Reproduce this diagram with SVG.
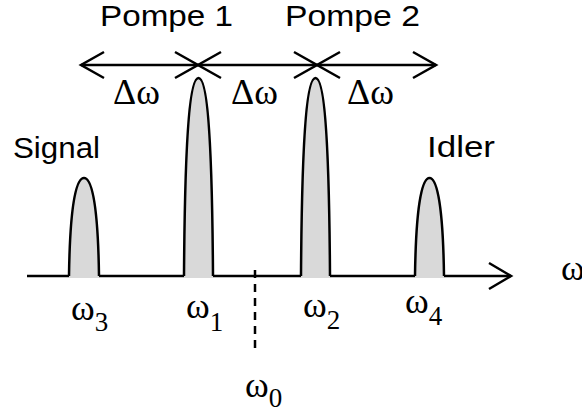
<svg xmlns="http://www.w3.org/2000/svg" width="582" height="414" viewBox="0 0 582 414">
<style>
.ln{fill:none;stroke:#000;stroke-width:2.5;stroke-linejoin:miter;}
.pk{fill:#d9d9d9;stroke:none;}
.pkl{fill:none;stroke:#000;stroke-width:2.5;}
.lbl{font-family:"Liberation Sans",Arial,sans-serif;font-size:30px;fill:#000;}
.gr{font-family:"Liberation Serif","Times New Roman",serif;font-size:36px;fill:#000;}
.sub{font-size:27px;}
</style>
<rect width="582" height="414" fill="#fff"/>
<g id="connectors">
  <path class="ln" d="M27 276 H511"/>
  <path class="ln" d="M489 263 L511 276 L489 289"/>
  <path class="ln" d="M255 270 V353" stroke-dasharray="8 6"/>
  <path class="ln" d="M81 65 H436"/>
  <path class="ln" d="M104 52 L81 65 L104 78"/>
  <path class="ln" d="M175 52 L198 65 L175 78"/>
  <path class="ln" d="M221 52 L198 65 L221 78"/>
  <path class="ln" d="M294 52 L317 65 L294 78"/>
  <path class="ln" d="M340 52 L317 65 L340 78"/>
  <path class="ln" d="M413 52 L436 65 L413 78"/>
</g>
<g id="signal-peak">
  <path class="pk" d="M69 278 L69 276 C70 205 76 178 84 178 C92 178 98 205 99 276 L99 278 Z"/>
  <path class="pkl" d="M69 276 C70 205 76 178 84 178 C92 178 98 205 99 276"/>
</g>
<g id="pump1-peak">
  <path class="pk" d="M184 278 L184 276 C185 120 191 78 198.5 78 C206 78 212 120 213 276 L213 278 Z"/>
  <path class="pkl" d="M184 276 C185 120 191 78 198.5 78 C206 78 212 120 213 276"/>
</g>
<g id="pump2-peak">
  <path class="pk" d="M301 278 L301 276 C302 120 308 78 315.5 78 C323 78 329 120 330 276 L330 278 Z"/>
  <path class="pkl" d="M301 276 C302 120 308 78 315.5 78 C323 78 329 120 330 276"/>
</g>
<g id="idler-peak">
  <path class="pk" d="M415 278 L415 276 C416 205 422 178 429.5 178 C437 178 443 205 444 276 L444 278 Z"/>
  <path class="pkl" d="M415 276 C416 205 422 178 429.5 178 C437 178 443 205 444 276"/>
</g>
<g id="labels">
  <text class="lbl" x="100" y="26" textLength="133" lengthAdjust="spacingAndGlyphs">Pompe 1</text>
  <text class="lbl" x="285" y="26" textLength="135" lengthAdjust="spacingAndGlyphs">Pompe 2</text>
  <text class="lbl" x="13" y="158" textLength="87" lengthAdjust="spacingAndGlyphs">Signal</text>
  <text class="lbl" x="427" y="157" textLength="68" lengthAdjust="spacingAndGlyphs">Idler</text>
  <text class="gr" x="113" y="104">Δω</text>
  <text class="gr" x="231" y="104">Δω</text>
  <text class="gr" x="347" y="104">Δω</text>
  <text class="gr" x="71" y="320">ω<tspan class="sub" dy="11">3</tspan></text>
  <text class="gr" x="186" y="318">ω<tspan class="sub" dy="13">1</tspan></text>
  <text class="gr" x="303" y="317">ω<tspan class="sub" dy="12">2</tspan></text>
  <text class="gr" x="405" y="313">ω<tspan class="sub" dy="12">4</tspan></text>
  <text class="gr" x="245" y="397">ω<tspan class="sub" dy="10">0</tspan></text>
  <text class="gr" x="561" y="280">ω</text>
</g>
</svg>
